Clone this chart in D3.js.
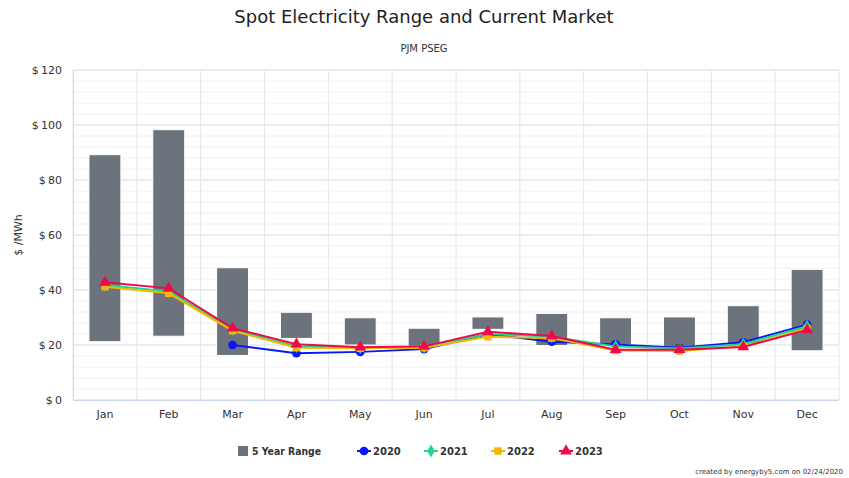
<!DOCTYPE html>
<html><head><meta charset="utf-8">
<script src="https://cdn.jsdelivr.net/npm/d3@7"></script>
<style>body{margin:0;background:#fff;} text{font-family:"DejaVu Sans",Verdana,sans-serif;}</style>
</head><body>
<svg id="c" width="849" height="478"></svg>
<script>
const months = ["Jan","Feb","Mar","Apr","May","Jun","Jul","Aug","Sep","Oct","Nov","Dec"];
const rangeLow  = [21.2,23.2,16.2,22.4,20.0,19.5,25.7,19.8,20.2,18.8,20.3,17.9];
const rangeHigh = [89.2,98.3,48.1,31.9,29.9,26.1,30.2,31.5,29.9,30.2,34.3,47.5];
const s2020 = [null,null,20.0,17.0,17.5,18.5,23.9,21.2,20.2,19.0,21.0,27.4];
const s2021 = [41.8,39.5,25.7,19.5,19.0,19.2,24.0,23.0,19.5,18.7,20.3,26.8];
const s2022 = [41.2,38.8,25.2,19.0,18.8,19.0,23.0,22.5,18.0,17.8,19.5,26.0];
const s2023 = [42.8,40.6,26.1,20.3,19.2,19.5,24.8,23.3,18.3,18.3,19.3,25.5];
const yTicks = [0,20,40,60,80,100,120];

const svg = d3.select("#c");
const L=73, R=839, T=70, B=400;
const x = d3.scaleBand().domain(months).range([L,R]);
const y = d3.scaleLinear().domain([0,120]).range([B,T]);

// minor grid
svg.append("g").selectAll("line").data(d3.range(0,121,4)).join("line")
  .attr("x1",L).attr("x2",R).attr("y1",d=>y(d)).attr("y2",d=>y(d))
  .attr("stroke","#eef0f3").attr("stroke-width",1);
// major grid
svg.append("g").selectAll("line").data(yTicks).join("line")
  .attr("x1",L).attr("x2",R).attr("y1",d=>y(d)).attr("y2",d=>y(d))
  .attr("stroke","#dfe2e7").attr("stroke-width",1);
// vertical category grid
svg.append("g").selectAll("line").data(months.concat(["end"])).join("line")
  .attr("x1",(d,i)=>L+i*x.bandwidth()).attr("x2",(d,i)=>L+i*x.bandwidth())
  .attr("y1",T).attr("y2",B).attr("stroke","#e3e6ea");

// y axis labels
svg.append("g").selectAll("text").data(yTicks).join("text")
  .attr("x",62).attr("y",d=>y(d)+4).attr("text-anchor","end")
  .attr("font-size",11).attr("fill","#333").text(d=>"$\u2009"+d);
// axis lines
svg.append("line").attr("x1",L).attr("x2",R).attr("y1",B+0.5).attr("y2",B+0.5).attr("stroke","#ccd6eb");
svg.append("line").attr("x1",L+0.5).attr("x2",L+0.5).attr("y1",T).attr("y2",B).attr("stroke","#d8dce2");
svg.append("g").selectAll("text").data(months).join("text")
  .attr("x",d=>x(d)+x.bandwidth()/2).attr("y",418).attr("text-anchor","middle")
  .attr("font-size",11).attr("fill","#333").text(d=>d);

// y axis title
svg.append("text").attr("transform","translate(22,235) rotate(-90)")
  .attr("text-anchor","middle").attr("font-size",11).attr("fill","#333").text("$ /MWh");

// range bars
const bw = x.bandwidth()*0.5;
svg.append("g").selectAll("rect").data(months).join("rect")
  .attr("x",d=>x(d)+x.bandwidth()/2-bw/2).attr("width",bw)
  .attr("y",(d,i)=>y(rangeHigh[i])).attr("height",(d,i)=>y(rangeLow[i])-y(rangeHigh[i]))
  .attr("fill","#6c737d").attr("stroke","#fff").attr("stroke-width",1);

const series = [
  {name:"2020", data:s2020, color:"#0a18f5", sym:d3.symbolCircle, size:60},
  {name:"2021", data:s2021, color:"#1ed68c", sym:d3.symbolDiamond, size:50},
  {name:"2022", data:s2022, color:"#f2b705", sym:d3.symbolSquare, size:55},
  {name:"2023", data:s2023, color:"#ee0a4a", sym:d3.symbolTriangle, size:60}
];
const cx = d=>x(d)+x.bandwidth()/2;
series.forEach(s=>{
  const pts = months.map((m,i)=>[m,s.data[i]]).filter(p=>p[1]!=null);
  svg.append("path").datum(pts)
    .attr("d",d3.line().x(p=>cx(p[0])).y(p=>y(p[1])))
    .attr("fill","none").attr("stroke",s.color).attr("stroke-width",2);
  svg.append("g").selectAll("path").data(pts).join("path")
    .attr("transform",p=>`translate(${cx(p[0])},${y(p[1])})`)
    .attr("d",d3.symbol().type(s.sym).size(s.size)).attr("fill",s.color);
});

// titles
svg.append("text").attr("x",424).attr("y",23).attr("text-anchor","middle")
  .attr("font-size",18).attr("fill","#222").text("Spot Electricity Range and Current Market");
svg.append("text").attr("x",424).attr("y",52).attr("text-anchor","middle")
  .attr("font-size",10).attr("fill","#333").text("PJM PSEG");

// legend
const lg = svg.append("g");
lg.append("rect").attr("x",238).attr("y",446).attr("width",10).attr("height",10).attr("fill","#6c737d");
lg.append("text").attr("x",252).attr("y",455).attr("font-size",10).attr("font-weight","bold").attr("fill","#333")
  .attr("textLength",69).attr("lengthAdjust","spacingAndGlyphs").text("5 Year Range");
const lx = [364,431,498,566];
series.forEach((s,i)=>{
  lg.append("line").attr("x1",lx[i]-7).attr("x2",lx[i]+7).attr("y1",451).attr("y2",451).attr("stroke",s.color).attr("stroke-width",2);
  lg.append("path").attr("transform",`translate(${lx[i]},451)`).attr("d",d3.symbol().type(s.sym).size(s.size)).attr("fill",s.color);
  lg.append("text").attr("x",lx[i]+9).attr("y",455).attr("font-size",10).attr("font-weight","bold").attr("fill","#333").text(s.name);
});

svg.append("text").attr("x",843).attr("y",474).attr("text-anchor","end")
  .attr("font-size",7).attr("fill","#333").text("created by energyby5.com on 02/24/2020");
</script>
</body></html>
